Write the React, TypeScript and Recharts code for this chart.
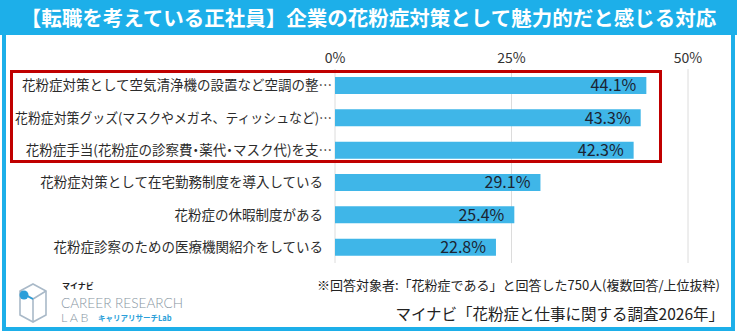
import React from "react";
import { BarChart, Bar, XAxis, YAxis, CartesianGrid, LabelList } from "recharts";

const categories = [
  "花粉症対策として空気清浄機の設置など空調の整…",
  "花粉症対策グッズ(マスクやメガネ、ティッシュなど)…",
  "花粉症手当(花粉症の診察費・薬代・マスク代)を支…",
  "花粉症対策として在宅勤務制度を導入している",
  "花粉症の休暇制度がある",
  "花粉症診察のための医療機関紹介をしている",
];
const values = [44.1, 43.3, 42.3, 29.1, 25.4, 22.8];
const xTicks = [0, 25, 50];

const title = "【転職を考えている正社員】企業の花粉症対策として魅力的だと感じる対応";
const footnote = "※回答対象者:「花粉症である」と回答した750人(複数回答/上位抜粋)";
const source = "マイナビ「花粉症と仕事に関する調査2026年」";

const data = categories.map((name, i) => ({ name, value: values[i] }));

const CYAN = "#1DAFE9";
const BAR = "#3FB6E8";
const FONT = "'Noto Sans CJK JP', 'Noto Sans', sans-serif";
const NARROW = "・";
const LABEL_SIZE = 13.5;
const LABEL_LEFT = 15;

let measureCtx: CanvasRenderingContext2D | null = null;
const measure = (s: string) => {
  if (typeof document === "undefined") return 0;
  if (!measureCtx) {
    const c = document.createElement("canvas");
    measureCtx = c.getContext("2d");
  }
  if (!measureCtx) return 0;
  measureCtx.font = `${LABEL_SIZE}px ${FONT}`;
  return measureCtx.measureText(s).width;
};

const CatTick = (props: any) => {
  const { x, y, payload } = props;
  const s: string = String(payload.value);
  const trunc = s.endsWith("…");
  const tx = trunc ? x + 9 : x;
  const hasNarrow = Array.from(s).some((ch) => NARROW.includes(ch));
  if (!hasNarrow) {
    const maxW = tx - LABEL_LEFT;
    const w = measure(s);
    const fit = w > maxW ? { textLength: maxW, lengthAdjust: "spacingAndGlyphs" as const } : {};
    return (
      <text
        x={tx}
        y={y}
        dy={5}
        textAnchor="end"
        fill="#2b2b2b"
        fontSize={LABEL_SIZE}
        fontFamily={FONT}
        {...fit}
      >
        {s}
      </text>
    );
  }
  const parts: { t: string; n: boolean }[] = [];
  for (const ch of Array.from(s)) {
    const n = NARROW.includes(ch);
    const last = parts[parts.length - 1];
    if (last && last.n === n) last.t += ch;
    else parts.push({ t: ch, n });
  }
  return (
    <text
      x={tx}
      y={y}
      dy={5}
      textAnchor="end"
      fill="#2b2b2b"
      fontSize={LABEL_SIZE}
      fontFamily={FONT}
    >
      {parts.map((p, i) => (
        <tspan key={i} style={p.n ? { fontFeatureSettings: '"palt"' } : undefined}>
          {p.t}
        </tspan>
      ))}
    </text>
  );
};

export default function App() {
  return (
    <div
      style={{
        position: "absolute",
        left: 0,
        top: 0,
        width: 737,
        height: 333,
        background: "#fff",
        fontFamily: FONT,
        overflow: "hidden",
      }}
    >
      <div
        style={{
          position: "absolute",
          left: 2,
          top: 0,
          width: 733,
          height: 331,
          border: `4px solid ${CYAN}`,
          boxSizing: "border-box",
        }}
      />
      <div
        style={{
          position: "absolute",
          left: 0,
          top: 0,
          width: 737,
          height: 35,
          background: CYAN,
          color: "#fff",
          fontWeight: 700,
          fontSize: 20.5,
          lineHeight: "35px",
          textAlign: "center",
          whiteSpace: "nowrap",
          letterSpacing: 0,
        }}
      >
        {title}
      </div>
      <div style={{ position: "absolute", left: 0, top: 0 }}>
        <BarChart
          width={737}
          height={333}
          data={data}
          layout="vertical"
          margin={{ top: 40, right: 49, bottom: 70, left: 0 }}
          barSize={17}
        >
          <CartesianGrid horizontal={false} vertical stroke="#dcdcdc" />
          <XAxis
            type="number"
            orientation="top"
            domain={[0, 50]}
            ticks={xTicks}
            tickFormatter={(v: number) => `${v}%`}
            axisLine={false}
            tickLine={false}
            tickSize={4}
            tickMargin={2}
            height={29}
            tick={{ fill: "#333", fontSize: 14, fontFamily: FONT }}
          />
          <YAxis
            type="category"
            dataKey="name"
            width={335}
            axisLine={false}
            tickLine={false}
            tickSize={0}
            tickMargin={12}
            interval={0}
            tick={<CatTick />}
          />
          <Bar dataKey="value" fill={BAR} isAnimationActive={false}>
            <LabelList
              dataKey="value"
              position="insideRight"
              offset={10}
              formatter={(v: number) => `${v.toFixed(1)}%`}
              fill="#1b2433"
              fontSize={16}
              fontFamily={FONT}
            />
          </Bar>
        </BarChart>
      </div>
      <div
        style={{
          position: "absolute",
          left: 10,
          top: 70,
          width: 652,
          height: 93,
          border: "3px solid #C00000",
          boxSizing: "border-box",
        }}
      />
      <div
        style={{
          position: "absolute",
          right: 17,
          top: 275,
          fontSize: 13,
          color: "#222",
          whiteSpace: "nowrap",
          lineHeight: "20px",
        }}
      >
        {footnote}
      </div>
      <div
        style={{
          position: "absolute",
          right: 13,
          top: 302,
          fontSize: 15.5,
          color: "#222",
          whiteSpace: "nowrap",
          lineHeight: "22px",
        }}
      >
        {source}
      </div>
      <svg
        width={200}
        height={60}
        style={{ position: "absolute", left: 0, top: 272 }}
      >
        <g fill="none" stroke="#a9b9c8" strokeWidth={1.6}>
          <polygon points="33,12 46,19 46,43 33,50 20,43 20,19" />
          <polyline points="20,19 33,27 46,19" />
          <line x1={33} y1={27} x2={33} y2={50} />
        </g>
        <line x1={25} y1={23} x2={33} y2={27} stroke="#2c9fd9" strokeWidth={1.6} />
        <circle cx={24} cy={23} r={4.5} fill="#2c9fd9" />
        <text x={62} y={17} fontSize={8} fontWeight={700} fill="#222" fontFamily={FONT}>
          マイナビ
        </text>
        <text x={61} y={36} fontSize={13} fontWeight={300} fill="#8795a2" fontFamily="Lato, 'Noto Sans', sans-serif" textLength={122} lengthAdjust="spacingAndGlyphs">
          CAREER RESEARCH
        </text>
        <text x={61} y={50} fontSize={12.5} fontWeight={300} fill="#8795a2" fontFamily="Lato, 'Noto Sans', sans-serif" letterSpacing={2.5}>
          LAB
        </text>
        <text x={98} y={49} fontSize={7.5} fontWeight={700} fill="#2c9fd9" fontFamily={FONT}>
          キャリアリサーチLab
        </text>
      </svg>
    </div>
  );
}
